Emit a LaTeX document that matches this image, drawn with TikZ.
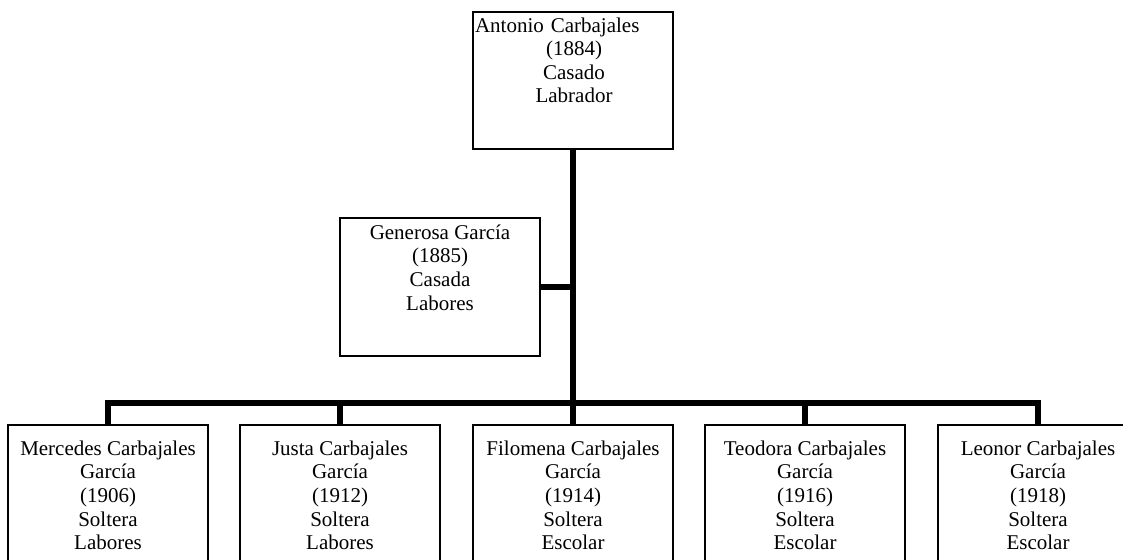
\documentclass[tikz,border=0pt]{standalone}
\usepackage{fontspec}
\setmainfont{Liberation Serif}
\begin{document}
\begin{tikzpicture}[x=1pt,y=-1pt,
  box/.style={draw, line width=1.4pt, minimum width=200pt, inner sep=0pt, outer sep=0pt, anchor=north west},
  txt/.style={align=center, inner sep=0pt, anchor=north, font=\fontsize{21}{23.6}\selectfont},
  conn/.style={line width=5.5pt}]
\useasboundingbox (0,0) rectangle (1123,559);
\clip (0,0) rectangle (1123,559);
% boxes
\node[box, minimum height=137pt] (ant) at (473,12) {};
\node[box, minimum height=138pt] (gen) at (340,218) {};
\node[box, minimum height=170pt] (mer) at (8,425) {};
\node[box, minimum height=170pt] (jus) at (240,425) {};
\node[box, minimum height=170pt] (fil) at (473,425) {};
\node[box, minimum height=170pt] (teo) at (705,425) {};
\node[box, minimum height=170pt] (leo) at (938,425) {};
% texts
\newcommand{\fl}{\rule{0pt}{15pt}}
\node[txt, text width=198pt] at (574,17) {\fl\hbox to 198pt{Antonio Carbajales\hfill}\\(1884)\\Casado\\Labrador};
\node[txt] at (440,224) {\fl Generosa García\\(1885)\\Casada\\Labores};
\node[txt] at (108,440) {\fl Mercedes Carbajales\\García\\(1906)\\Soltera\\Labores};
\node[txt] at (340,440) {\fl Justa Carbajales\\García\\(1912)\\Soltera\\Labores};
\node[txt] at (573,440) {\fl Filomena Carbajales\\García\\(1914)\\Soltera\\Escolar};
\node[txt] at (805,440) {\fl Teodora Carbajales\\García\\(1916)\\Soltera\\Escolar};
\node[txt] at (1038,440) {\fl Leonor Carbajales\\García\\(1918)\\Soltera\\Escolar};
% connectors
\coordinate (bus) at (573,403);
\draw[conn] (ant.south) -- (fil.north);
\draw[conn] (gen.east) -- (gen.east -| ant.south);
\draw[conn] (mer.north) -- (mer.north |- bus) -- (leo.north |- bus) -- (leo.north);
\draw[conn] (jus.north) -- (jus.north |- bus);
\draw[conn] (teo.north) -- (teo.north |- bus);
\end{tikzpicture}
\end{document}
